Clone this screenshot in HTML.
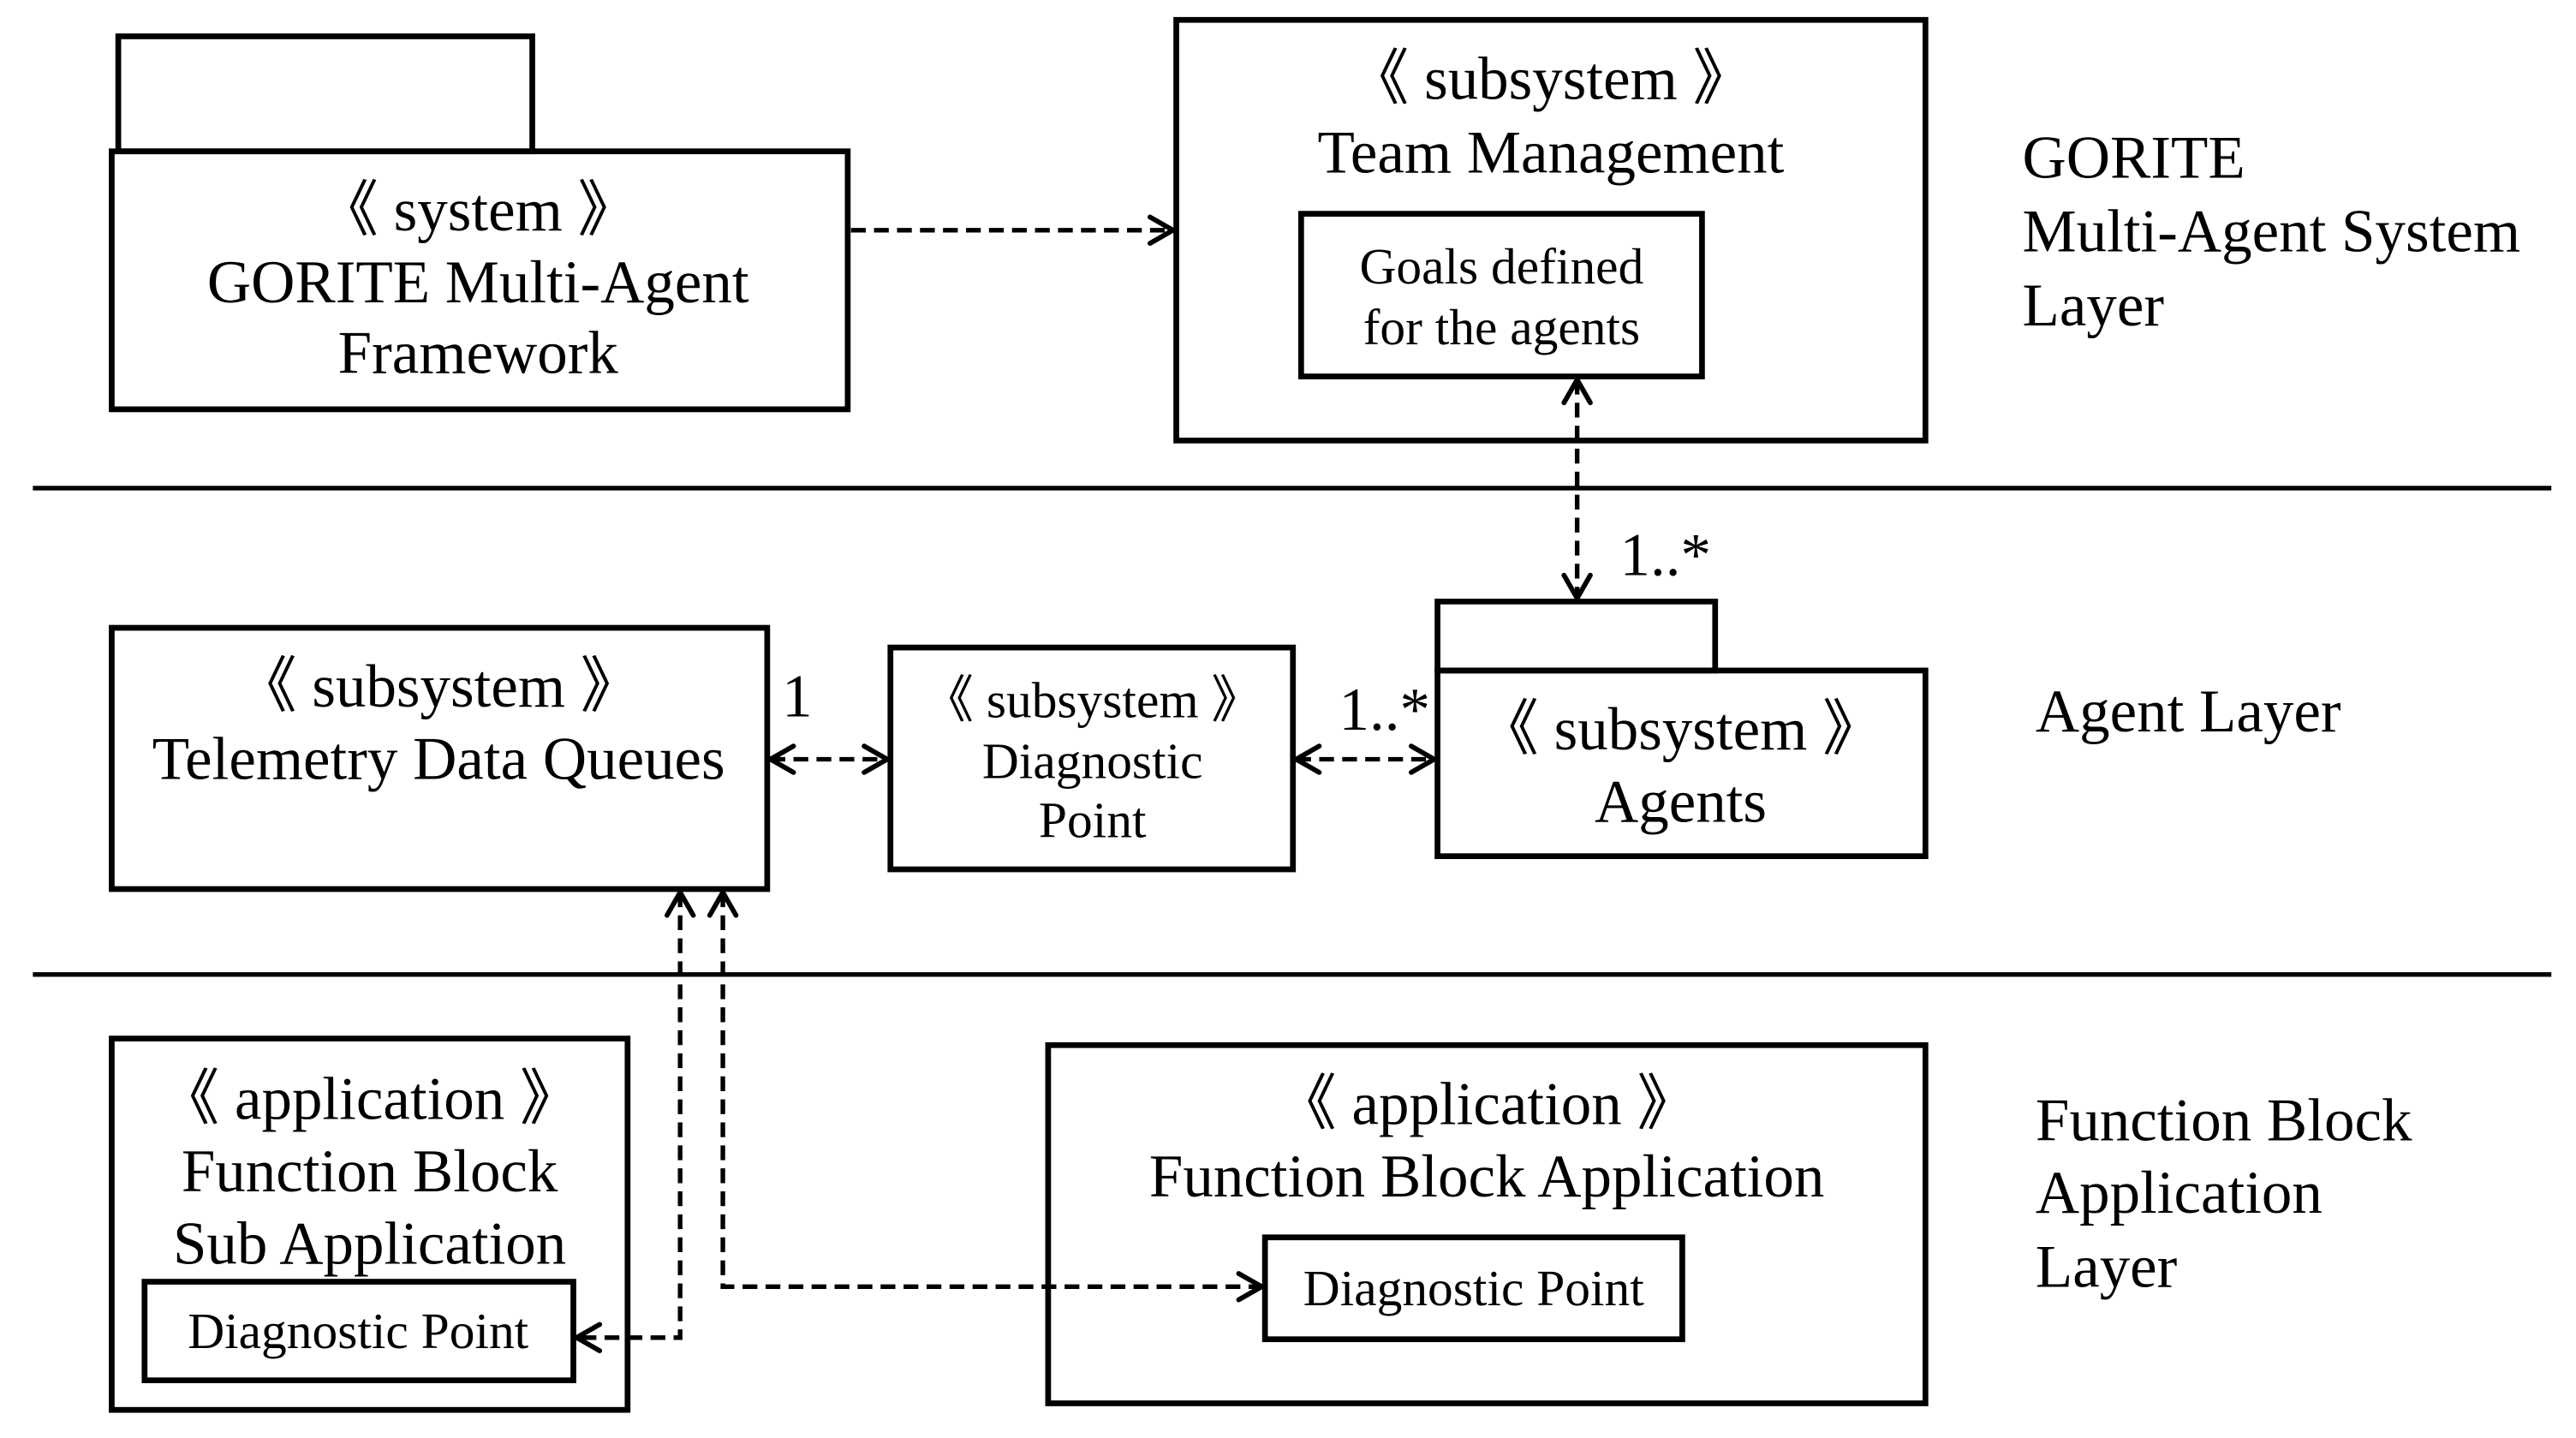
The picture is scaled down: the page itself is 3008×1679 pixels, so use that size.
<!DOCTYPE html>
<html><head><meta charset="utf-8"><style>
html,body{margin:0;padding:0;background:#fff;}
svg{display:block;}
text{font-family:"Liberation Serif",serif;fill:#000;}
</style></head><body>
<svg width="3008" height="1679" viewBox="0 0 1568 875" xmlns="http://www.w3.org/2000/svg">
<defs>
<marker id="a" viewBox="0 0 20 20" refX="18" refY="10" markerWidth="20" markerHeight="20" markerUnits="userSpaceOnUse" orient="auto-start-reverse">
<polyline points="4,2 18,10 4,18" fill="none" stroke="#000" stroke-width="3" stroke-linecap="round"/>
</marker>
</defs>
<g fill="none" stroke="#000" stroke-width="3.5">
<rect x="72" y="22" width="252" height="70"/>
<rect x="68" y="92" width="448" height="157"/>
<rect x="716" y="12" width="456" height="256"/>
<rect x="792" y="130" width="244" height="99"/>
<rect x="875" y="366" width="169" height="42"/>
<rect x="875" y="408" width="297" height="113"/>
<rect x="68" y="382" width="399" height="159"/>
<rect x="542" y="394" width="245" height="135"/>
<rect x="68" y="632" width="314" height="226"/>
<rect x="88" y="780" width="261" height="60"/>
<rect x="638" y="636" width="534" height="218"/>
<rect x="770" y="753" width="254" height="62"/>
</g>
<g stroke="#000" stroke-width="2.8">
<line x1="20" y1="297" x2="1553" y2="297"/>
<line x1="20" y1="593" x2="1553" y2="593"/>
</g>
<g fill="none" stroke="#000" stroke-width="2.8" stroke-dasharray="9,5">
<line x1="518" y1="140" x2="714" y2="140" marker-end="url(#a)"/>
<line x1="960" y1="231" x2="960" y2="364" marker-start="url(#a)" marker-end="url(#a)"/>
<line x1="469" y1="462" x2="540" y2="462" marker-start="url(#a)" marker-end="url(#a)"/>
<line x1="789" y1="462" x2="873" y2="462" marker-start="url(#a)" marker-end="url(#a)"/>
<polyline points="414,543 414,814 351,814" marker-start="url(#a)" marker-end="url(#a)"/>
<polyline points="440,543 440,783 768,783" marker-start="url(#a)" marker-end="url(#a)"/>
</g>
<g font-size="37" text-anchor="middle" dominant-baseline="central">
<text x="291" y="128">《 system 》</text>
<text x="291" y="172">GORITE Multi-Agent</text>
<text x="291" y="215">Framework</text>
<text x="944" y="48">《 subsystem 》</text>
<text x="944" y="93">Team Management</text>
<text x="1023" y="444">《 subsystem 》</text>
<text x="1023" y="488">Agents</text>
<text x="267" y="418">《 subsystem 》</text>
<text x="267" y="462">Telemetry Data Queues</text>
<text x="225" y="669">《 application 》</text>
<text x="225" y="713">Function Block</text>
<text x="225" y="757">Sub Application</text>
<text x="905" y="672">《 application 》</text>
<text x="905" y="716">Function Block Application</text>
</g>
<g font-size="31" text-anchor="middle" dominant-baseline="central">
<text x="914" y="162">Goals defined</text>
<text x="914" y="199">for the agents</text>
<text x="665" y="426">《 subsystem 》</text>
<text x="665" y="463">Diagnostic</text>
<text x="665" y="499">Point</text>
<text x="218" y="810">Diagnostic Point</text>
<text x="897" y="784">Diagnostic Point</text>
</g>
<g font-size="37" dominant-baseline="central">
<text x="1231" y="96">GORITE</text>
<text x="1231" y="141">Multi-Agent System</text>
<text x="1231" y="186">Layer</text>
<text x="1239" y="433">Agent Layer</text>
<text x="1239" y="682">Function Block</text>
<text x="1239" y="726">Application</text>
<text x="1239" y="771">Layer</text>
<text x="986" y="338">1..*</text>
<text x="476" y="424">1</text>
<text x="815" y="432">1..*</text>
</g>
</svg>
</body></html>
